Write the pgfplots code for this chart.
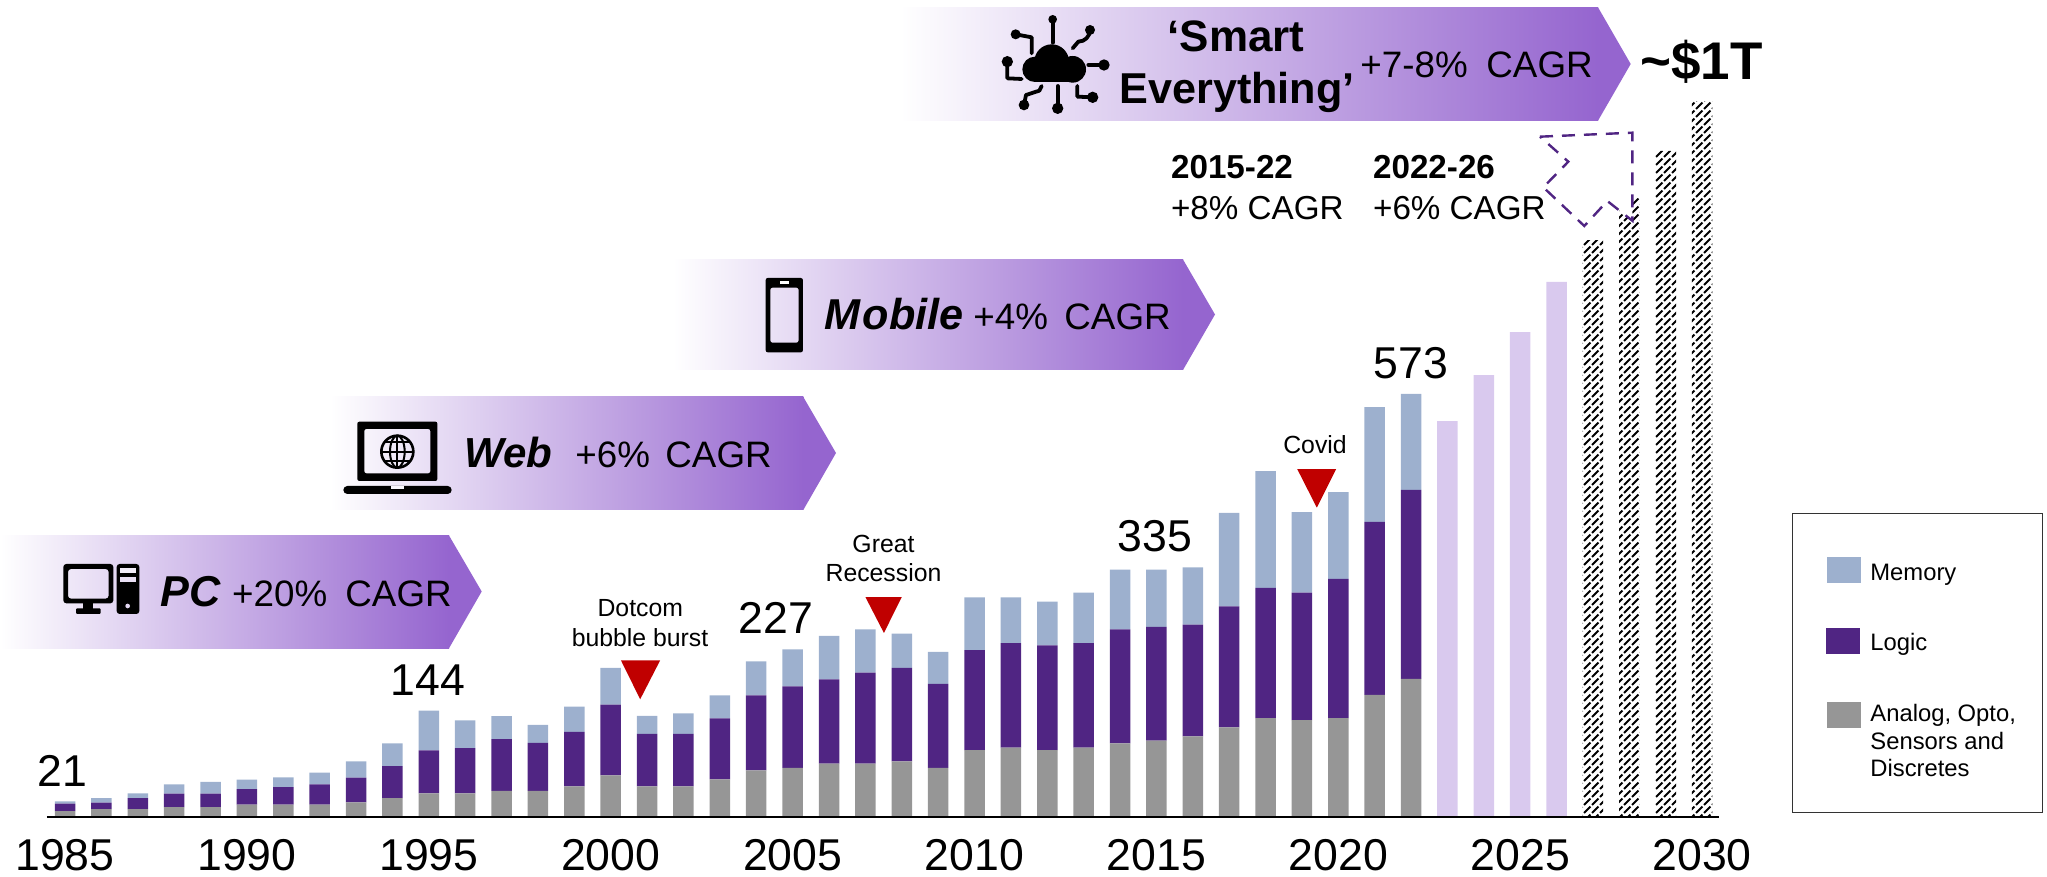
\documentclass[border=0pt]{standalone}
\usepackage{pgfplots}
\usepackage{pgfplotstable}
\usepackage{fontspec}
\setmainfont{Liberation Sans}
\pgfplotsset{compat=1.18}
\usetikzlibrary{patterns}
\definecolor{cMem}{HTML}{9DB0CE}
\definecolor{cLog}{HTML}{502583}
\definecolor{cAna}{HTML}{969696}
\definecolor{cFc}{HTML}{D9C9EE}
\definecolor{cRed}{HTML}{C00000}
\definecolor{cBan}{HTML}{9565CF}
\newcommand{\fs}[1]{\fontsize{#1}{#1}\selectfont}
\pgfdeclarepatternformonly{hatchd}{\pgfqpoint{-0.6pt}{-0.6pt}}{\pgfqpoint{4.6pt}{4.6pt}}{\pgfqpoint{4pt}{4pt}}{
  \pgfsetlinewidth{1.05pt}
  \pgfsetbuttcap
  \pgfpathmoveto{\pgfqpoint{0pt}{0pt}}
  \pgfpathlineto{\pgfqpoint{3.2pt}{3.2pt}}
  \pgfusepath{stroke}
}
\pgfplotstableread{
year analog logic memory fc hatch
1985 8.0 10.0 3.0 0 0
1986 10.8 8.6 6.3 0 0
1987 10.8 14.9 6.3 0 0
1988 13.5 18.1 12.6 0 0
1989 13.5 18.1 15.8 0 0
1990 16.7 21.2 12.6 0 0
1991 16.7 23.9 13.1 0 0
1992 16.7 27.5 15.8 0 0
1993 19.9 33.4 22.1 0 0
1994 25.7 43.3 30.7 0 0
1995 32.0 58.2 53.8 0 0
1996 32.0 61.4 37.5 0 0
1997 35.2 70.4 31.1 0 0
1998 35.2 65.0 24.4 0 0
1999 41.5 73.6 34.3 0 0
2000 56.4 95.7 49.7 0 0
2001 41.5 70.9 24.4 0 0
2002 41.5 70.9 28.0 0 0
2003 51.0 82.6 31.1 0 0
2004 63.2 101.6 46.0 0 0
2005 66.4 110.6 50.0 0 0
2006 72.2 114.2 58.7 0 0
2007 72.2 123.2 58.7 0 0
2008 75.4 126.4 46.5 0 0
2009 66.4 113.8 43.3 0 0
2010 90.7 135.4 71.3 0 0
2011 93.9 141.7 61.8 0 0
2012 90.7 141.7 59.1 0 0
2013 93.9 141.7 68.2 0 0
2014 99.8 154.4 80.8 0 0
2015 103.4 153.9 77.7 0 0
2016 109.2 151.2 77.6 0 0
2017 121.4 163.9 126.4 0 0
2018 134.0 176.4 158.0 0 0
2019 131.3 172.4 109.3 0 0
2020 134.0 188.6 117.4 0 0
2021 165.2 234.6 155.3 0 0
2022 186.9 255.9 130.2 0 0
2023 0 0 0 536 0
2024 0 0 0 598.5 0
2025 0 0 0 656.7 0
2026 0 0 0 724.5 0
2027 0 0 0 0 781
2028 0 0 0 0 838
2029 0 0 0 0 902
2030 0 0 0 0 969.5
}\datatable
\begin{document}
\begin{tikzpicture}
\path[use as bounding box] (0,0) rectangle (1023.5pt,438.5pt);
\begin{axis}[
  at={(23.5pt,30pt)}, anchor=south west,
  scale only axis, width=836pt, height=408pt,
  xmin=1984.505, xmax=2030.464, ymin=0, ymax=1105,
  ybar stacked, bar width=10.25pt,
  axis y line=none, axis x line=bottom,
  x axis line style={-, line width=1.2pt},
  xtick={1985,1990,1995,2000,2005,2010,2015,2020,2025,2030},
  xticklabels={1985,1990,1995,2000,2005,2010,2015,2020,2025,2030},
  major tick length=0pt,
  xticklabel style={font=\fs{22.3}, yshift=-7.5pt},
  axis on top, clip=false,
]
\addplot[fill=cAna, draw=none] table[x=year,y=analog]{\datatable};
\addplot[fill=cLog, draw=none] table[x=year,y=logic]{\datatable};
\addplot[fill=cMem, draw=none] table[x=year,y=memory]{\datatable};
\addplot[fill=cFc, draw=none] table[x=year,y=fc]{\datatable};
\addplot[pattern=hatchd, pattern color=black, draw=none] table[x=year,y=hatch]{\datatable};
\fill[cRed] (axis cs:2000.28,212.2) -- (axis cs:2001.36,212.2) -- (axis cs:2000.81,159.4) -- cycle;
\fill[cRed] (axis cs:2007.0,297.9) -- (axis cs:2008.0,297.9) -- (axis cs:2007.51,249.2) -- cycle;
\fill[cRed] (axis cs:2018.87,471.2) -- (axis cs:2019.94,471.2) -- (axis cs:2019.41,418.8) -- cycle;
\end{axis}
\begin{scope}[shift={(0,438.5pt)}, x=0.5pt, y=-0.5pt]
% banners
\shade[left color=white, right color=cBan] (0,535.5) rectangle (449,648.3);
\fill[cBan] (448.5,535.5) -- (449,535.5) -- (481.7,591.5) -- (449,648.3) -- (448.5,648.3) -- cycle;
\shade[left color=white, right color=cBan] (330,397) rectangle (803.3,510);
\fill[cBan] (802.8,397) -- (803.3,397) -- (836,453) -- (803.3,510) -- (802.8,510) -- cycle;
\shade[left color=white, right color=cBan] (673,259.5) rectangle (1183,370);
\fill[cBan] (1182.5,259.5) -- (1183,259.5) -- (1215,314.5) -- (1183,370) -- (1182.5,370) -- cycle;
\shade[left color=white, right color=cBan] (900,7.3) rectangle (1598,120.7);
\fill[cBan] (1597.5,7.3) -- (1598,7.3) -- (1630.7,64) -- (1598,120.7) -- (1597.5,120.7) -- cycle;
% banner text
\tikzset{t/.style={inner sep=0pt, anchor=base west}}
\node[t,font=\fs{21.6}\bfseries\itshape] at (160,607) {PC};
\node[t,font=\fs{18.4}] at (231.7,607) {+20\%};
\node[t,font=\fs{18.4}] at (345,607) {CAGR};
\node[t,font=\fs{21}\bfseries\itshape] at (464,467.5) {Web};
\node[t,font=\fs{18.4}] at (575,467.5) {+6\%};
\node[t,font=\fs{18.4}] at (665,467.5) {CAGR};
\node[t,font=\fs{21.6}\bfseries\itshape] at (824,330) {M\kern1.2pt obile};
\node[t,font=\fs{18.4}] at (973,330) {+4\%};
\node[t,font=\fs{18.4}] at (1064,330) {CAGR};
\node[inner sep=0pt,anchor=base,font=\fs{22}\bfseries] at (1236,52) {‘Smart};
\node[t,font=\fs{21.6}\bfseries] at (1119,104) {Everything’};
\node[t,font=\fs{18.4}] at (1360,77.5) {+7-8\%};
\node[t,font=\fs{18.4}] at (1486,77.5) {CAGR};
% PC icon
\begin{scope}[shift={(0,520)}, x=0.16667pt, y=-0.16667pt]
\fill[black,even odd rule,rounded corners=1.5pt] (190,132) rectangle (340,250) (204,147) rectangle (326,236);
\fill (250,248) rectangle (280,267);
\fill[rounded corners=0.5pt] (228,265) rectangle (302,282);
\fill[black,even odd rule,rounded corners=1.5pt] (350,132) rectangle (418,282);
\fill[white!88!cBan] (360,143) rectangle (408,158);
\fill[white!80!cBan] (360,170) rectangle (408,185);
\fill[white!75!cBan] (383,258) circle (7);
\end{scope}
% laptop icon
\begin{scope}[shift={(320,385)}, x=0.16667pt, y=-0.16667pt]
\fill[black,even odd rule,rounded corners=1pt] (112,110) rectangle (352,288) (133,132) rectangle (331,265);
\fill[rounded corners=2pt] (70,303) rectangle (395,327);
\fill[white!95!cBan] (212,303) rectangle (252,312);
\draw[line width=1.3pt] (232,200) circle (48);
\draw[line width=1pt] (232,200) ellipse (22 and 48);
\draw[line width=1pt] (232,152) -- (232,248);
\draw[line width=1pt] (186,200) -- (278,200);
\draw[line width=1pt] (194,172) -- (270,172);
\draw[line width=1pt] (194,228) -- (270,228);
\end{scope}
% phone icon
\begin{scope}[shift={(670,250)}, x=0.17857pt, y=-0.16667pt]
\fill[black,even odd rule,rounded corners=1pt] (268,84) rectangle (372,307) (281,113) rectangle (360,278);
\fill[white] (308,94) rectangle (333,103);
\end{scope}
% cloud icon
\begin{scope}[shift={(950,0)}, x=0.16667pt, y=-0.16667pt]
\fill (305,185) circle (52);
\fill (255,208) circle (38);
\fill (368,208) circle (40);
\fill (255,200) rectangle (368,247);
\tikzset{w/.style={line width=1.9pt, line join=round, line cap=round}}
\fill (308,58) circle (13); \draw[w] (308,58) -- (308,128);
\fill (197,103) circle (15); \draw[w] (197,103) -- (245,112) -- (245,160);
\fill (420,90) circle (15); \draw[w] (420,90) to[out=-90,in=0] (385,125) -- (368,145);
\fill (462,195) circle (17); \draw[w] (462,195) -- (415,195);
\fill (172,185) circle (17); \draw[w] (172,185) -- (172,235) -- (215,237);
\fill (222,315) circle (16); \draw[w] (222,315) -- (228,285) -- (268,272) -- (275,258);
\fill (323,325) circle (17); \draw[w] (323,325) -- (323,258);
\fill (428,292) circle (17); \draw[w] (428,292) -- (382,290) -- (382,258);
\end{scope}
% dashed arrow
\draw[cLog, fill=white, line width=1.2pt, dash pattern=on 6.5pt off 4.5pt]
  (1540,136.7) -- (1632.3,132.7) -- (1632.3,220.7) -- (1607.3,201) -- (1584.3,226) -- (1543.3,187.3) -- (1568.3,161.7) -- cycle;
% value labels
\tikzset{v/.style={inner sep=0pt, anchor=base, font=\fs{22.3}}}
\node[v] at (62.5,787) {21};
\node[v] at (427.7,696) {144};
\node[v] at (776,634) {227};
\node[v] at (1155,552) {335};
\node[v] at (1411,379) {573};
\node[t,font=\fs{26.5}\bfseries] at (1640,80) {\textasciitilde\$1T};
% CAGR
\node[t,font=\fs{16.6}\bfseries] at (1170.7,178.3) {2015-22};
\node[t,font=\fs{16.6}] at (1170.7,220) {+8\% CAGR};
\node[t,font=\fs{16.6}\bfseries] at (1372.7,178.3) {2022-26};
\node[t,font=\fs{16.6}] at (1372.7,220) {+6\% CAGR};
% events
\tikzset{e/.style={inner sep=0pt, anchor=base, font=\fs{12.4}}}
\node[e] at (640.3,617) {Dotcom};
\node[e] at (640,647) {bubble burst};
\node[e] at (883.5,552.7) {Great};
\node[e] at (883.5,582) {Recession};
\node[e] at (1315,453.7) {Covid};
% legend
\draw[black!80, line width=0.5pt] (1792.4,513.3) rectangle (2042.5,812.7);
\fill[cMem] (1827,557) rectangle (1860.5,582.7);
\fill[cLog] (1825.8,628) rectangle (1860,653.7);
\fill[cAna] (1827,702) rectangle (1860.5,727.7);
\tikzset{l/.style={inner sep=0pt, anchor=base west, font=\fs{11.9}}}
\node[l] at (1870,581) {Memory};
\node[l] at (1870,651) {Logic};
\node[l] at (1870,722) {Analog, Opto,};
\node[l] at (1870,750) {Sensors and};
\node[l] at (1870,777) {Discretes};
\end{scope}
\end{tikzpicture}
\end{document}
